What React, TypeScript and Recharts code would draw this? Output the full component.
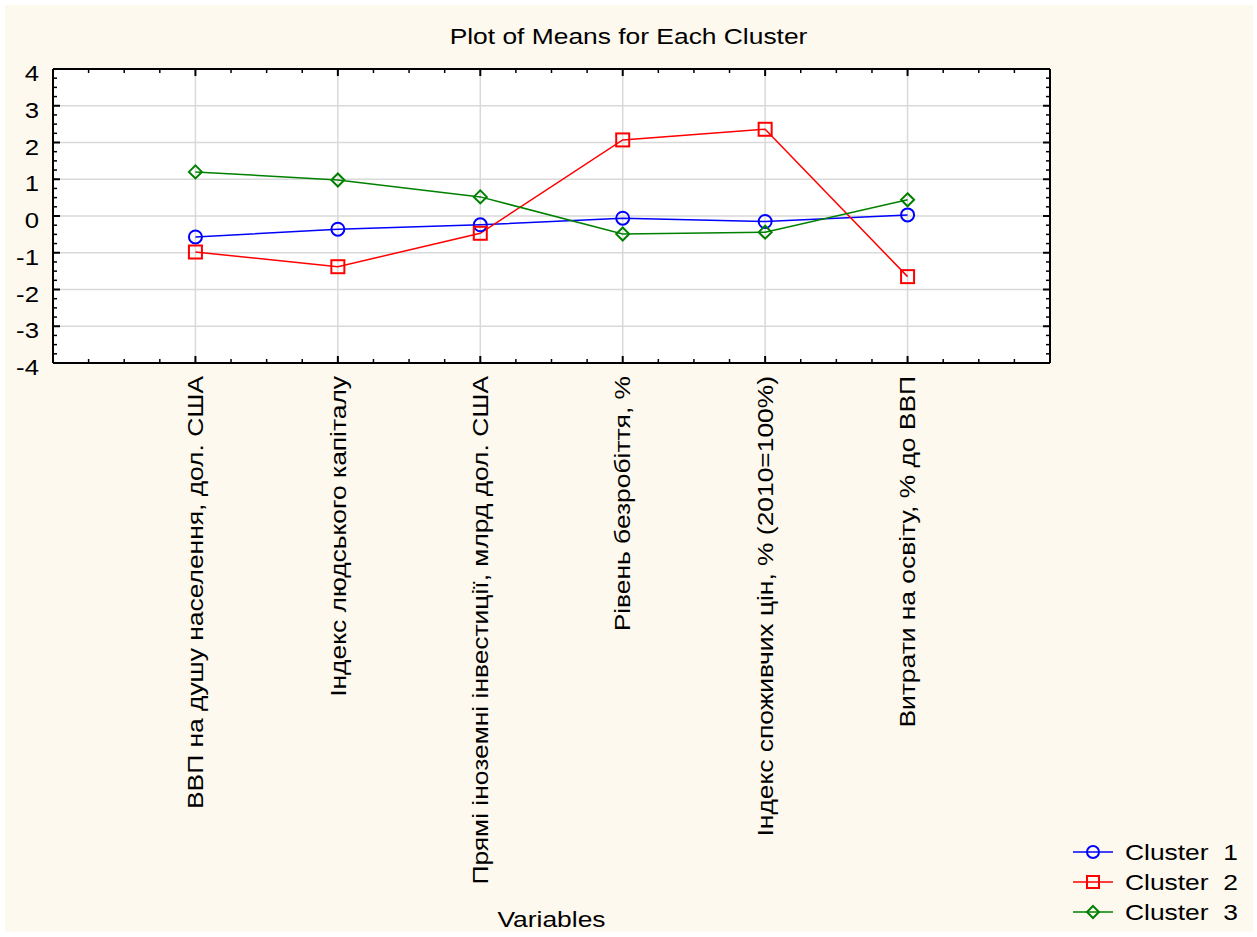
import React from 'react';
import { LineChart, Line, XAxis, YAxis, CartesianGrid } from 'recharts';

// dane
const variables = [
  'ВВП на душу населення, дол. США',
  'Індекс людського капіталу',
  'Прямі іноземні інвестиції, млрд дол. США',
  'Рівень безробіття, %',
  'Індекс споживчих цін, % (2010=100%)',
  'Витрати на освіту, % до ВВП',
];
const cluster1 = [-0.57, -0.36, -0.24, -0.06, -0.15, 0.03];
const cluster2 = [-0.98, -1.38, -0.47, 2.07, 2.36, -1.65];
const cluster3 = [1.2, 0.98, 0.52, -0.49, -0.44, 0.44];

const xMajor = [1, 2, 3, 4, 5, 6];
const yMajor = [-4, -3, -2, -1, 0, 1, 2, 3, 4];
const xAll: number[] = [];
for (let i = 0; i <= 28; i++) xAll.push(i / 4);
const yAll: number[] = [];
for (let i = -16; i <= 16; i++) yAll.push(i / 4);

const data = variables.map((name, i) => ({
  x: i + 1,
  name,
  c1: cluster1[i],
  c2: cluster2[i],
  c3: cluster3[i],
}));

const FONT = '"Liberation Sans", Arial, sans-serif';
const BLUE = '#0000ff';
const RED = '#ff0000';
const GREEN = '#008000';
// tekst w oryginale jest szerszy niż Arial przy tej samej wysokości
const STRETCH = 1.2;

const isInt = (v: number) => Math.abs(v - Math.round(v)) < 1e-6;

const BottomTick = (props: any) => {
  const { x, y, payload } = props;
  const v = payload.value;
  const major = xMajor.includes(v);
  const len = major ? 7 : 4;
  return (
    <g>
      <line x1={x} x2={x} y1={y} y2={y - len} stroke="#000" strokeWidth={major ? 2 : 1.5} />
      {major && (
        <text
          transform={`translate(${x},${y + 13}) rotate(-90) scale(${STRETCH},1)`}
          textAnchor="end"
          dominantBaseline="central"
          fontFamily={FONT}
          fontSize={22}
          fill="#000"
        >
          {variables[v - 1]}
        </text>
      )}
    </g>
  );
};

const TopTick = (props: any) => {
  const { x, y, payload } = props;
  const major = xMajor.includes(payload.value);
  const len = major ? 7 : 4;
  return <line x1={x} x2={x} y1={y} y2={y + len} stroke="#000" strokeWidth={major ? 2 : 1.5} />;
};

const LeftTick = (props: any) => {
  const { x, y, payload } = props;
  const v = payload.value;
  const major = isInt(v);
  const len = major ? 7 : 4;
  return (
    <g>
      <line x1={x} x2={x + len} y1={y} y2={y} stroke="#000" strokeWidth={major ? 2 : 1.5} />
      {major && (
        <text
          transform={`translate(${x - 14},${y + 4}) scale(1.12,1)`}
          textAnchor="end"
          dominantBaseline="central"
          fontFamily={FONT}
          fontSize={23}
          fill="#000"
        >
          {String(Math.round(v))}
        </text>
      )}
    </g>
  );
};

const RightTick = (props: any) => {
  const { x, y, payload } = props;
  const major = isInt(payload.value);
  const len = major ? 7 : 4;
  return <line x1={x} x2={x - len} y1={y} y2={y} stroke="#000" strokeWidth={major ? 2 : 1.5} />;
};

const circleDot = (p: any) => (
  <circle key={`c1-${p.index}`} cx={p.cx} cy={p.cy} r={6.5} fill="none" stroke={BLUE} strokeWidth={2} />
);
const squareDot = (p: any) => (
  <rect key={`c2-${p.index}`} x={p.cx - 6.5} y={p.cy - 6.5} width={13} height={13} fill="none" stroke={RED} strokeWidth={2} />
);
const diamondDot = (p: any) => (
  <polygon
    key={`c3-${p.index}`}
    points={`${p.cx},${p.cy - 6.5} ${p.cx + 6.5},${p.cy} ${p.cx},${p.cy + 6.5} ${p.cx - 6.5},${p.cy}`}
    fill="none"
    stroke={GREEN}
    strokeWidth={2}
  />
);

const legendItems = [
  { label: 'Cluster  1', color: BLUE, shape: 'circle' },
  { label: 'Cluster  2', color: RED, shape: 'square' },
  { label: 'Cluster  3', color: GREEN, shape: 'diamond' },
];

export default function App() {
  const axisLine = { stroke: '#000', strokeWidth: 2 };
  return (
    <div style={{ position: 'absolute', left: 0, top: 0, width: 1257, height: 937, background: '#fff' }}>
      <div style={{ position: 'absolute', left: 5, top: 5, width: 1248, height: 927, background: '#fef9ee' }} />
      <div style={{ position: 'absolute', left: 0, top: 0 }}>
        <LineChart width={1257} height={937} data={data} margin={{ top: 59, right: 197, bottom: 74, left: 0 }}>
          <XAxis
            xAxisId="b"
            type="number"
            dataKey="x"
            orientation="bottom"
            domain={[0, 7]}
            ticks={xAll}
            interval={0}
            height={500}
            tickSize={0}
            tickMargin={0}
            tickLine={false}
            axisLine={axisLine}
            tick={BottomTick}
            allowDataOverflow
          />
          <XAxis
            xAxisId="t"
            type="number"
            dataKey="x"
            orientation="top"
            domain={[0, 7]}
            ticks={xAll}
            interval={0}
            height={10}
            tickSize={0}
            tickMargin={0}
            tickLine={false}
            axisLine={axisLine}
            tick={TopTick}
            allowDataOverflow
          />
          <YAxis
            yAxisId="l"
            type="number"
            orientation="left"
            domain={[-4, 4]}
            ticks={yAll}
            interval={0}
            width={53}
            tickSize={0}
            tickMargin={0}
            tickLine={false}
            axisLine={axisLine}
            tick={LeftTick}
            allowDataOverflow
          />
          <YAxis
            yAxisId="r"
            type="number"
            orientation="right"
            domain={[-4, 4]}
            ticks={yAll}
            interval={0}
            width={10}
            tickSize={0}
            tickMargin={0}
            tickLine={false}
            axisLine={axisLine}
            tick={RightTick}
            allowDataOverflow
          />
          {/* ukryte osie tylko dla siatki; id "zz" sortuje się na końcu, więc nie przesuwają widocznych */}
          <XAxis xAxisId="zzgrid" type="number" dataKey="x" orientation="top" domain={[0, 7]} ticks={xMajor} hide allowDataOverflow />
          <YAxis yAxisId="zzgrid" type="number" orientation="right" domain={[-4, 4]} ticks={yMajor} hide allowDataOverflow />
          <CartesianGrid xAxisId="zzgrid" yAxisId="zzgrid" stroke="#d9d9d9" strokeWidth={1.5} fill="#ffffff" />
          <Line xAxisId="b" yAxisId="l" dataKey="c1" stroke={BLUE} strokeWidth={1.5} dot={circleDot} isAnimationActive={false} />
          <Line xAxisId="b" yAxisId="l" dataKey="c2" stroke={RED} strokeWidth={1.5} dot={squareDot} isAnimationActive={false} />
          <Line xAxisId="b" yAxisId="l" dataKey="c3" stroke={GREEN} strokeWidth={1.5} dot={diamondDot} isAnimationActive={false} />
        </LineChart>
      </div>
      <svg width={1257} height={937} style={{ position: 'absolute', left: 0, top: 0, pointerEvents: 'none' }}>
        <text
          transform={`translate(628.5,44) scale(${STRETCH},1)`}
          textAnchor="middle"
          fontFamily={FONT}
          fontSize={22}
          fill="#000"
        >
          Plot of Means for Each Cluster
        </text>
        <text
          transform={`translate(551.5,927) scale(${STRETCH},1)`}
          textAnchor="middle"
          fontFamily={FONT}
          fontSize={22}
          fill="#000"
        >
          Variables
        </text>
        {legendItems.map((item, i) => {
          const cy = 852 + i * 30;
          const cx = 1093;
          return (
            <g key={item.label}>
              <line x1={1073} x2={1113} y1={cy} y2={cy} stroke={item.color} strokeWidth={1.5} />
              {item.shape === 'circle' && <circle cx={cx} cy={cy} r={6} fill="none" stroke={item.color} strokeWidth={2} />}
              {item.shape === 'square' && (
                <rect x={cx - 6} y={cy - 6} width={12} height={12} fill="none" stroke={item.color} strokeWidth={2} />
              )}
              {item.shape === 'diamond' && (
                <polygon
                  points={`${cx},${cy - 6} ${cx + 6},${cy} ${cx},${cy + 6} ${cx - 6},${cy}`}
                  fill="none"
                  stroke={item.color}
                  strokeWidth={2}
                />
              )}
              <text
                transform={`translate(1125,${cy}) scale(${STRETCH},1)`}
                dominantBaseline="central"
                fontFamily={FONT}
                fontSize={22}
                fill="#000"
                style={{ whiteSpace: 'pre' }}
              >
                {item.label}
              </text>
            </g>
          );
        })}
      </svg>
    </div>
  );
}
